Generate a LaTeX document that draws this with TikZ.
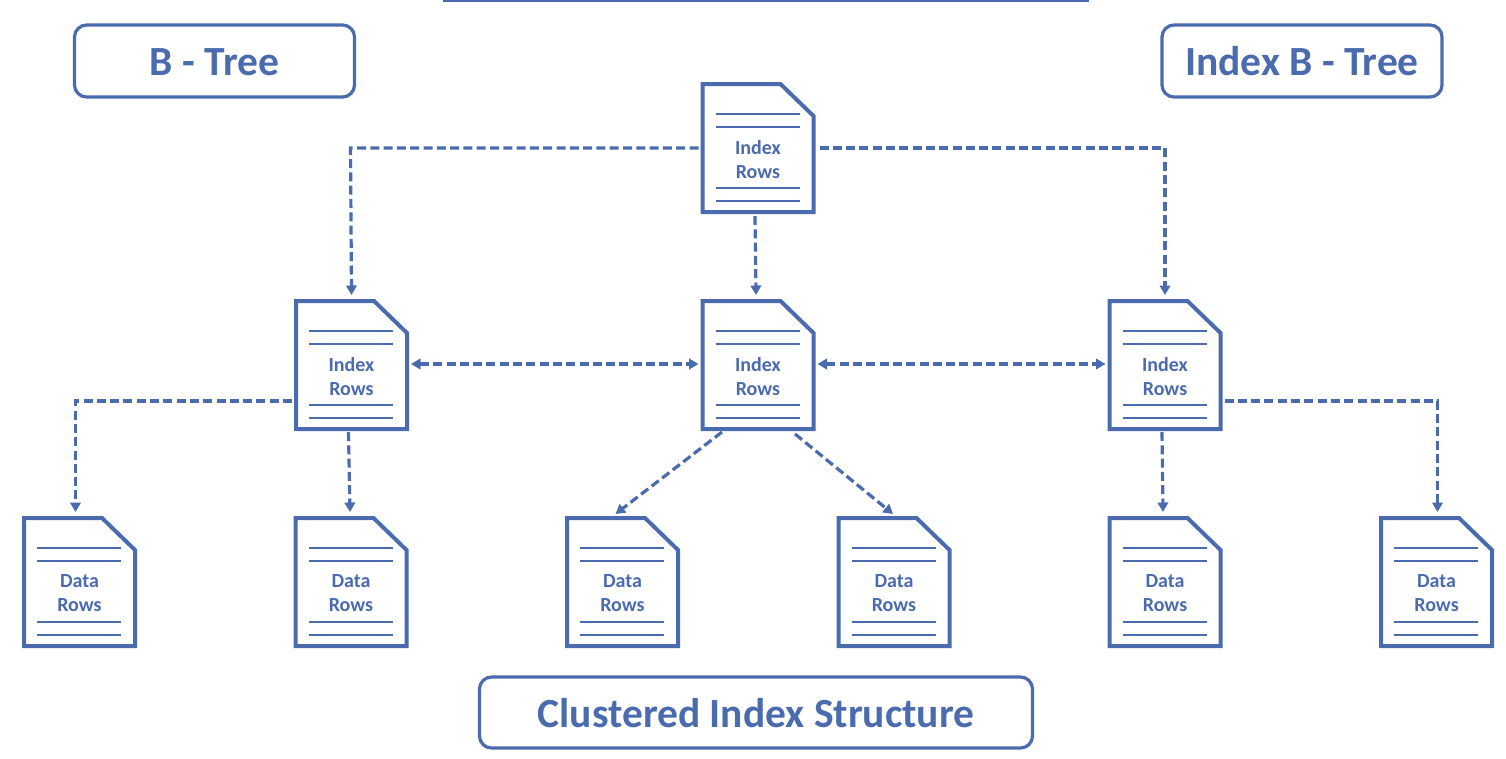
\documentclass[tikz,border=0pt]{standalone}
\usepackage{fontspec}
\setmainfont{Carlito}
\usetikzlibrary{arrows.meta}
\definecolor{ink}{HTML}{4A6BAE}
\tikzset{
  x=1pt,y=-1pt,
  docframe/.style={minimum width=111pt,minimum height=128pt,inner sep=0pt,outer sep=0pt},
  docline/.style={draw=ink,line width=4pt,miter limit=10},
  rule/.style={draw=ink,line width=2.4pt},
  doctext/.style={text=ink,font=\bfseries\fontsize{20}{24}\selectfont,align=center,inner sep=0pt},
  titlebox/.style={draw=ink,line width=3.2pt,rounded corners=12pt,text=ink,font=\bfseries\fontsize{41.5}{48}\selectfont,inner sep=0pt,minimum height=72pt,text height=29pt,text depth=0pt},
  link/.style={draw=ink,line width=3.2pt,dash pattern=on 9pt off 4.3pt,-{Triangle[length=9.5pt,width=10.5pt]}},
  biglink/.style={link,{Triangle[length=9.5pt,width=10.5pt]}-{Triangle[length=9.5pt,width=10.5pt]}}
}
\newcommand{\docnode}[4]{% name, centre x, top y, first word
  \node[docframe] (#1) at (#2,#3+64) {};
  \draw[docline,line join=miter] (#1.north west) -- ([xshift=78pt]#1.north west) -- ([yshift=-32pt]#1.north east) -- (#1.south east) -- (#1.south west) -- cycle;
  \draw[rule] ([xshift=13pt,yshift=-30pt]#1.north west) -- ([xshift=-14pt,yshift=-30pt]#1.north east);
  \draw[rule] ([xshift=13pt,yshift=-43pt]#1.north west) -- ([xshift=-14pt,yshift=-43pt]#1.north east);
  \draw[rule] ([xshift=13pt,yshift=24pt]#1.south west) -- ([xshift=-14pt,yshift=24pt]#1.south east);
  \draw[rule] ([xshift=13pt,yshift=11pt]#1.south west) -- ([xshift=-14pt,yshift=11pt]#1.south east);
  \node[doctext] (#1-text) at (#2,#3+75.5) {#4\\Rows};
}
\begin{document}
\begin{tikzpicture}
\useasboundingbox (0,0) rectangle (1506,758);
\fill[ink] (443,0) rectangle (1089,2.2);

\node[titlebox,minimum width=280pt] (btree) at (214.5,61) {B - Tree};
\node[titlebox,minimum width=280pt] (ibtree) at (1302,61) {Index B - Tree};
\node[titlebox,minimum width=553pt,minimum height=71pt] (cis) at (756,712.5) {Clustered Index Structure};

\docnode{root}{758}{84}{Index}
\docnode{a}{351.5}{301}{Index}
\docnode{b}{758}{301}{Index}
\docnode{c}{1165}{301}{Index}
\docnode{d1}{79.5}{518}{Data}
\docnode{d2}{351}{518}{Data}
\docnode{d3}{622.5}{518}{Data}
\docnode{d4}{894}{518}{Data}
\docnode{d5}{1165}{518}{Data}
\docnode{d6}{1436.5}{518}{Data}

\draw[link] ([xshift=-4pt]root.west) -- ([xshift=-1pt]a.north |- root.west) -- ([yshift=6pt]a.north);
\draw[link] ([xshift=6pt]root.east) -- (c.north |- root.east) -- ([yshift=6pt]c.north);
\draw[link] ([xshift=-3pt,yshift=-4pt]root.south) -- ([xshift=-2pt,yshift=6pt]b.north);

\draw[biglink] ([xshift=4pt,yshift=1pt]a.east) -- ([xshift=-4pt,yshift=1pt]b.west);
\draw[biglink] ([xshift=4pt,yshift=1pt]b.east) -- ([xshift=-4pt,yshift=1pt]c.west);

\draw[link] ([xshift=-4pt,yshift=-36pt]a.west) -- ([xshift=-4pt,yshift=-36pt]a.west -| d1.north) -- ([xshift=-4pt,yshift=6pt]d1.north);
\draw[link] ([xshift=-3pt,yshift=-3pt]a.south) -- ([xshift=-1pt,yshift=6pt]d2.north);
\draw[link] ([xshift=-36pt,yshift=-3pt]b.south) -- ([xshift=-7pt,yshift=4pt]d3.north);
\draw[link] ([xshift=37pt,yshift=-5pt]b.south) -- ([xshift=-1pt,yshift=4pt]d4.north);
\draw[link] ([xshift=-3pt,yshift=-3pt]c.south) -- ([xshift=-2pt,yshift=6pt]d5.north);
\draw[link] ([xshift=4pt,yshift=-36pt]c.east) -- ([xshift=1pt,yshift=-36pt]c.east -| d6.north) -- ([xshift=1pt,yshift=6pt]d6.north);
\end{tikzpicture}
\end{document}
